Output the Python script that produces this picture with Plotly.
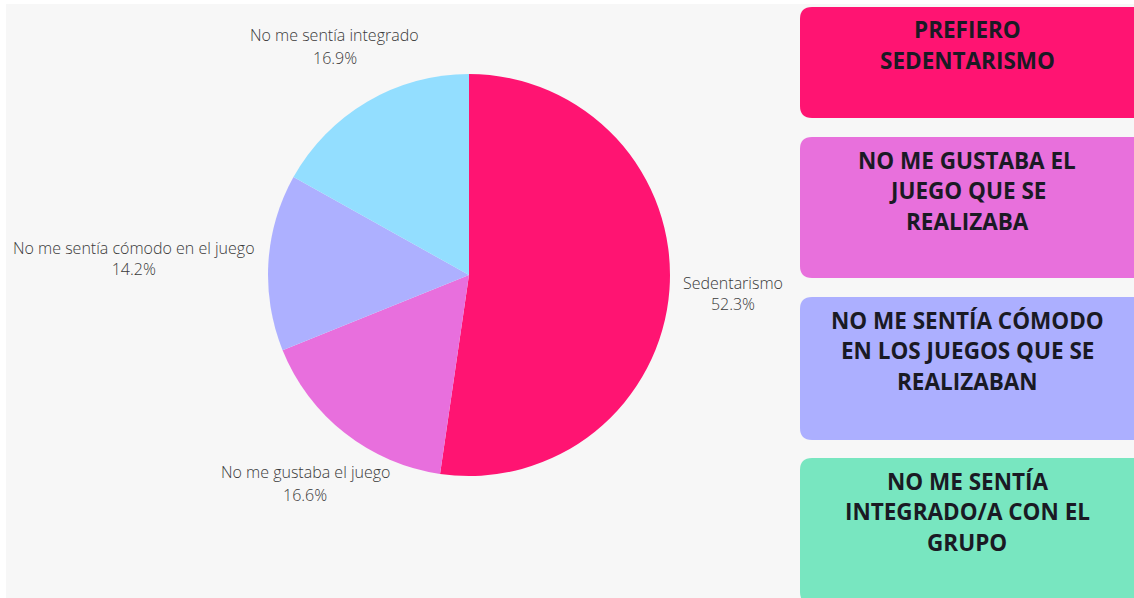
import math
import plotly.graph_objects as go

W, H = 1134, 598

labels = ["Sedentarismo", "No me gustaba el juego", "No me sentía cómodo en el juego", "No me sentía integrado"]
values = [52.3, 16.6, 14.2, 16.9]
slice_colors = ["#FF1472", "#E86FDD", "#ADB0FF", "#93DEFF"]

box_texts = [
    ["PREFIERO", "SEDENTARISMO"],
    ["NO ME GUSTABA EL", "JUEGO QUE SE", "REALIZABA"],
    ["NO ME SENTÍA CÓMODO", "EN LOS JUEGOS QUE SE", "REALIZABAN"],
    ["NO ME SENTÍA", "INTEGRADO/A CON EL", "GRUPO"],
]
box_colors = ["#FF1472", "#E870DC", "#ACAFFF", "#78E6C0"]
box_spans = [(7, 118), (137, 278), (297, 440), (458, 604)]

# pie geometry (pixels)
CX, CY, R = 469, 275, 201


def px(x):
    return x / W


def py(y):
    return 1 - y / H


def rounded_rect(x0, y0, x1, y1, r):
    pts = [
        f"M {px(x0 + r)} {py(y0)}",
        f"L {px(x1 - r)} {py(y0)}",
        f"Q {px(x1)} {py(y0)} {px(x1)} {py(y0 + r)}",
        f"L {px(x1)} {py(y1 - r)}",
        f"Q {px(x1)} {py(y1)} {px(x1 - r)} {py(y1)}",
        f"L {px(x0 + r)} {py(y1)}",
        f"Q {px(x0)} {py(y1)} {px(x0)} {py(y1 - r)}",
        f"L {px(x0)} {py(y0 + r)}",
        f"Q {px(x0)} {py(y0)} {px(x0 + r)} {py(y0)}",
        "Z",
    ]
    return " ".join(pts)


fig = go.Figure()
fig.add_trace(go.Pie(
    labels=labels,
    values=values,
    sort=False,
    direction="clockwise",
    rotation=0,
    marker=dict(colors=slice_colors, line=dict(width=0)),
    textinfo="none",
    domain=dict(x=[px(CX - R), px(CX + R)], y=[py(CY + R), py(CY - R)]),
    showlegend=False,
    hoverinfo="label+percent",
))

shapes = [
    dict(type="rect", xref="paper", yref="paper", x0=px(6), x1=1, y0=py(598), y1=py(4),
         fillcolor="#F7F7F7", line=dict(width=0), layer="below"),
]
annotations = []

# slice labels placed along each slice's mid-angle, derived from the values
total = sum(values)
cum = 0.0
label_font = dict(family="Open Sans", size=16, color="#3a3a3a", weight=300)
for lab, v in zip(labels, values):
    mid = (cum + v / 2) / total * 2 * math.pi
    cum += v
    dx, dy = math.sin(mid), -math.cos(mid)
    pct = f"{v / total * 100:.1f}%"
    if abs(dx) > 0.95:
        ax = CX + math.copysign(R + 11, dx)
        ay = CY + dy * R * 1.3
        annotations.append(dict(
            x=px(ax), y=py(ay), xref="paper", yref="paper",
            text=f"{lab}<br>{pct}", showarrow=False, align="center",
            xanchor="left" if dx > 0 else "right", yanchor="middle",
            font=label_font,
        ))
    else:
        ax = CX + dx * R * 1.32
        ay = CY + dy * R * 1.32
        for j, t in enumerate([lab, pct]):
            annotations.append(dict(
                x=px(ax), y=py(ay - 11.5 + 23 * j), xref="paper", yref="paper",
                text=t, showarrow=False, xanchor="center", yanchor="middle",
                font=label_font,
            ))

for lines, col, (y0, y1) in zip(box_texts, box_colors, box_spans):
    shapes.append(dict(type="path", xref="paper", yref="paper",
                       path=rounded_rect(800, y0, 1150, y1, 12),
                       fillcolor=col, line=dict(width=0), layer="below"))
    for i, line in enumerate(lines):
        annotations.append(dict(
            x=px(967), y=py(y0 + 23 + 30.7 * i), xref="paper", yref="paper",
            text=line, showarrow=False, xanchor="center", yanchor="middle",
            font=dict(family="Open Sans", size=22.5, color="#1a1a24", weight="bold"),
        ))

fig.update_layout(
    width=W, height=H,
    margin=dict(l=0, r=0, t=0, b=0),
    paper_bgcolor="#FFFFFF",
    plot_bgcolor="#FFFFFF",
    shapes=shapes,
    annotations=annotations,
)

fig.write_html("out.html", config={"displayModeBar": False})
